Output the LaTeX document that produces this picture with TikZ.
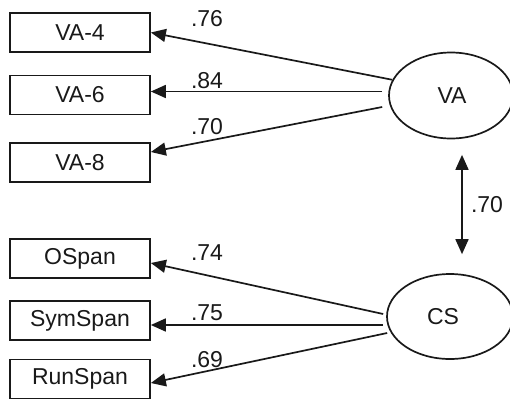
\documentclass[tikz,border=0pt]{standalone}
\usepackage{fontspec}
\setmainfont{Liberation Sans}
\usetikzlibrary{arrows.meta,shapes.geometric}
\begin{document}
\begin{tikzpicture}[x=1pt,y=-1pt,
  every node/.style={font=\fontsize{23}{27}\selectfont, text=black!90},
  obs/.style={draw=black!90, line width=1.7pt, minimum width=140pt, minimum height=39pt, inner sep=0pt},
  lat/.style={draw=black!90, line width=1.7pt, ellipse, inner sep=0pt},
  lbl/.style={inner sep=0pt},
  arr/.style={draw=black!90, line width=1.7pt, -{Triangle[length=15pt,width=13pt]}},
  dbl/.style={draw=black!90, line width=1.7pt, {Triangle[length=15pt,width=13pt]}-{Triangle[length=15pt,width=13pt]}}]
\useasboundingbox (0,0) rectangle (510,399);
% observed variables
\node[obs] (va4) at (80,32.5) {VA-4};
\node[obs] (va6) at (80,95) {VA-6};
\node[obs] (va8) at (80,162.5) {VA-8};
\node[obs] (ospan) at (80,258.5) {OSpan};
\node[obs] (symspan) at (80,320.5) {SymSpan};
\node[obs] (runspan) at (80,379) {RunSpan};
% latent variables
\node[lat, minimum width=124pt, minimum height=86pt] (va) at (451,95.5) {};
\node[lbl] (vatext) at (452,95.5) {VA};
\node[lat, minimum width=126pt, minimum height=85pt] (cs) at (450,316.5) {};
\node[lbl] (cstext) at (443,316.5) {CS};
% loadings
\draw[arr] (va.165) -- (va4.east);
\draw[arr] ([xshift=-6pt,yshift=4pt]va.west) -- ([yshift=3.5pt]va6.east);
\draw[arr] ([xshift=-6pt,yshift=-11.5pt]va.west) -- ([yshift=10.5pt]va8.east);
\draw[arr] ([xshift=-3pt,yshift=2.5pt]cs.west) -- ([yshift=-4.5pt]ospan.east);
\draw[arr] ([xshift=-3pt,yshift=-8.5pt]cs.west) -- ([yshift=-4.5pt]symspan.east);
\draw[arr] ([xshift=1pt,yshift=-16.5pt]cs.west) -- ([yshift=-4pt]runspan.east);
% correlation
\draw[dbl] ([xshift=11pt,yshift=-15.5pt]va.south) -- ([xshift=12pt,yshift=19pt]cs.north);
% labels
\node[lbl] (l1) at (207,19) {.76};
\node[lbl] (l2) at (207,81) {.84};
\node[lbl] (l3) at (207,127) {.70};
\node[lbl] (l4) at (207,253) {.74};
\node[lbl] (l5) at (207,313) {.75};
\node[lbl] (l6) at (207,360) {.69};
\node[lbl] (l7) at (487,205) {.70};
\end{tikzpicture}
\end{document}
